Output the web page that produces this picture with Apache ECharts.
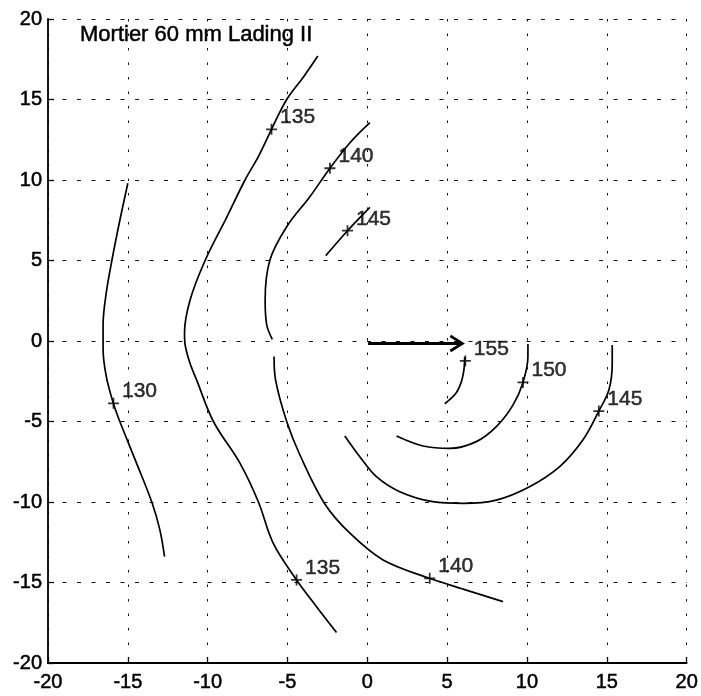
<!DOCTYPE html>
<html>
<head>
<meta charset="utf-8">
<script src="https://cdn.jsdelivr.net/npm/echarts@6/dist/echarts.min.js"></script>
<style>html,body{margin:0;padding:0;background:#fff}#c{width:701px;height:696px}</style>
</head>
<body>
<div id="c"></div>
<script>
const titleText = 'Mortier 60 mm Lading II';
const axisMin = -20, axisMax = 20, axisStep = 5;

const c130 = [[-15.0,9.8],[-15.5,7.5],[-16.0,5.0],[-16.35,3.0],[-16.55,1.0],[-16.55,-0.5],[-16.35,-2.2],[-15.9,-3.9],[-15.5,-5.0],[-14.45,-7.6],[-13.5,-10.0],[-13.0,-11.7],[-12.7,-13.4]];
const c135 = [[-3.1,17.7],[-4.0,16.4],[-5.05,15.0],[-6.0,13.15],[-6.8,11.5],[-7.66,10.0],[-8.8,7.7],[-10.16,5.0],[-11.1,2.55],[-11.45,0.5],[-11.4,-0.3],[-11.1,-1.4],[-10.7,-2.4],[-9.64,-5.0],[-7.97,-7.6],[-6.82,-10.0],[-5.89,-12.57],[-4.43,-14.84],[-3.18,-16.5],[-1.93,-18.1]];
const c140a = [[0.16,13.56],[-1.1,12.3],[-2.34,10.73],[-3.6,8.96],[-5.05,7.1],[-6.1,5.03],[-6.4,2.55],[-6.3,1.0],[-5.95,0.1]];
const c140b = [[-5.84,-0.97],[-5.75,-2.4],[-5.05,-5.0],[-4.22,-7.08],[-2.66,-10.12],[-1.09,-11.94],[0.99,-13.6],[3.9,-14.74],[6.2,-15.47],[8.5,-16.19]];
const c145a = [[-2.6,5.3],[-1.24,6.85],[0.16,8.3]];
const c145b = [[15.34,-0.25],[15.34,-1.39],[15.13,-3.04],[14.5,-4.35],[13.5,-6.15],[12.05,-7.8],[10.16,-9.05],[8.08,-9.88],[6.0,-10.08],[4.1,-9.98],[2.03,-9.36],[0.57,-8.43],[-0.47,-7.19],[-1.41,-5.9]];
const c150 = [[10.06,-0.19],[10.06,-0.97],[9.75,-2.57],[9.12,-3.98],[8.08,-5.32],[6.83,-6.25],[5.16,-6.67],[3.49,-6.52],[1.83,-5.9]];
const c155 = [[6.1,-1.0],[6.05,-1.8],[5.9,-2.5],[5.55,-3.25],[4.85,-3.9]];
const arrowShaft = [[0.05,-0.15],[5.95,-0.15]];
const arrowHead = [[5.2,0.32],[5.95,-0.15],[5.2,-0.62]];
const contourLabels = [[-15.9,-3.87,'130'],[-6.0,13.15,'135'],[-2.34,10.73,'140'],[-1.24,6.85,'145'],[-4.43,-14.84,'135'],[3.91,-14.74,'140'],[6.14,-1.24,'155'],[9.75,-2.57,'150'],[14.5,-4.35,'145']];

const FONT = '"Liberation Sans", Arial, Helvetica, sans-serif';
const chart = echarts.init(document.getElementById('c'), null, {renderer: 'canvas'});

function contour(data) {
  return {type: 'line', data: data, smooth: 0.35, showSymbol: false, symbol: 'none',
    lineStyle: {color: '#000', width: 1.7}, silent: true, animation: false, z: 3};
}

const plusPath = 'path://M4.2,0H5.8V4.2H10V5.8H5.8V10H4.2V5.8H0V4.2H4.2Z';
const thick = {textBorderColor: '#000', textBorderWidth: 0.5};

chart.setOption({
  animation: false,
  backgroundColor: '#fff',
  title: {text: titleText, left: 80, top: 24, padding: 0,
    textStyle: Object.assign({fontFamily: FONT, fontSize: 22, fontWeight: 'normal', color: '#000'}, thick)},
  grid: {left: 48, right: 14, top: 19, bottom: 33, containLabel: false},
  xAxis: {type: 'value', min: axisMin, max: axisMax, interval: axisStep,
    axisLine: {show: true, onZero: false, lineStyle: {color: '#000', width: 1.8}},
    axisTick: {show: true, inside: true, length: 6, lineStyle: {color: '#000', width: 1.3}},
    axisLabel: Object.assign({color: '#000', fontFamily: FONT, fontSize: 20, margin: 9}, thick),
    splitLine: {show: true, lineStyle: {color: '#111', width: 1, type: [2.5, 12]}}},
  yAxis: {type: 'value', min: axisMin, max: axisMax, interval: axisStep,
    axisLine: {show: true, onZero: false, lineStyle: {color: '#000', width: 1.8}},
    axisTick: {show: true, inside: true, length: 6, lineStyle: {color: '#000', width: 1.3}},
    axisLabel: Object.assign({color: '#000', fontFamily: FONT, fontSize: 20, margin: 6}, thick),
    splitLine: {show: true, lineStyle: {color: '#111', width: 1, type: [4, 10.5]}}},
  series: [
    contour(c130), contour(c135), contour(c140a), contour(c140b), contour(c145a),
    contour(c145b), contour(c150), contour(c155),
    {type: 'line', data: arrowShaft, symbol: 'none', lineStyle: {color: '#000', width: 3}, z: 4},
    {type: 'line', data: arrowHead, symbol: 'none', lineStyle: {color: '#000', width: 2.8, join: 'miter'}, z: 4},
    {type: 'scatter', data: contourLabels.map(d => ({value: [d[0], d[1]], name: d[2]})),
      symbol: plusPath, symbolSize: 11, itemStyle: {color: '#000'}, z: 5,
      label: Object.assign({show: true, position: 'right', distance: 3, offset: [0, -12], formatter: p => p.name,
        color: '#000', fontFamily: FONT, fontSize: 21}, thick)}
  ]
});
</script>
</body>
</html>
